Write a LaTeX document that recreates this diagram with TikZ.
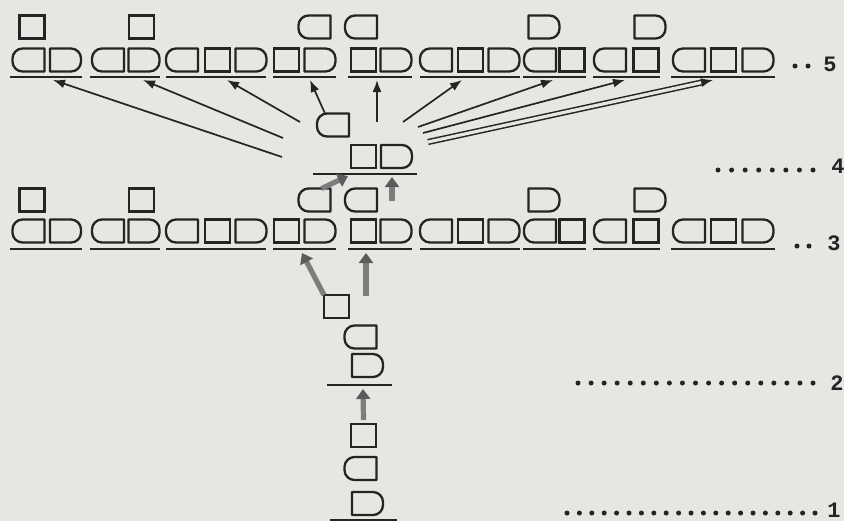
\documentclass[tikz,border=0pt]{standalone}
\usepackage{fontspec}
\setmonofont{Liberation Mono}
\usetikzlibrary{arrows.meta}
\definecolor{paper}{RGB}{229,231,226}
\definecolor{ink}{RGB}{36,36,36}
\definecolor{arrowgray}{RGB}{125,125,125}
\newcommand\glrad{5pt}
\newcommand\glyphS[2]{\node[sqbox] (#1) at (#2) {};}
\newcommand\glyphL[2]{\node[glyph,minimum width=16pt] (#1) at (#2) {};
  \draw[outline] (#1.north east)--([xshift=\glrad]#1.north west) arc[start angle=90,end angle=180,radius=\glrad]
  --([yshift=\glrad]#1.south west) arc[start angle=180,end angle=270,radius=\glrad]--(#1.south east)--cycle;}
\newcommand\glyphR[2]{\node[glyph,minimum width=15.5pt] (#1) at (#2) {};
  \draw[outline] (#1.north west)--([xshift=-\glrad]#1.north east) arc[start angle=90,end angle=0,radius=\glrad]
  --([yshift=\glrad]#1.south east) arc[start angle=0,end angle=-90,radius=\glrad]--(#1.south west)--cycle;}
\tikzset{
  glyph/.style={minimum height=11.5pt,inner sep=0pt,outer sep=0pt},
  sqbox/.style={glyph,draw=ink,line width=1.15pt,minimum width=12.5pt},
  outline/.style={draw=ink,line width=1.15pt,line join=round},
  uline/.style={ink,line width=1pt},
  fan/.style={ink,line width=0.85pt,-{Latex[length=6pt,width=4.5pt]}},
  fat/.style={arrowgray,line width=2.6pt,-{Triangle[length=5pt,width=7pt,color=ink!75]}},
  digit/.style={font=\ttfamily\bfseries\fontsize{11}{12}\selectfont,text=ink,inner sep=0pt},
}
\begin{document}
\begin{tikzpicture}[x=0.5pt,y=-0.5pt]
\useasboundingbox (0,0) rectangle (844,521);
\fill[paper] (0,0) rectangle (844,521);
\foreach \rw/\yr/\ya/\yu in {5/60/27/77,3/231/200/249}{
  \foreach \t/\x [count=\k] in {L/28.5,R/65.5,L/108,R/144,L/182,S/217.5,R/251,S/286.5,R/320,S/363.5,R/396,
      L/436,S/470.5,R/504,L/540,S/572,L/610,S/646,L/689,S/723.5,R/758}
    {\csname glyph\t\endcsname{g\rw-\k}{\x,\yr}}
  \foreach \t/\x [count=\k] in {S/32,S/141.5,L/314.5,L/361,R/544,R/650}
    {\csname glyph\t\endcsname{a\rw-\k}{\x,\ya}}
  \foreach \xa/\xb in {10/82,90/160,166/266,273/336,348/412,420/520,523/586,593/660,671/775}
    {\draw[uline] (\xa,\yu)--(\xb,\yu);}
}
\glyphL{l4}{333,125}\glyphS{s4}{363.5,156.5}\glyphR{r4}{396.5,156.5}
\draw[uline] (313,174)--(417,174);
\glyphS{s2}{336.5,306.5}\glyphL{l2}{360.5,337}\glyphR{r2}{367.5,365.5}
\draw[uline] (327,385)--(392,385);
\glyphS{s1}{363.5,435.5}\glyphL{l1}{360.5,468.5}\glyphR{r1}{367.5,503.5}
\draw[uline] (330,520)--(397,520);
\foreach \i/\xa/\ya/\xb in {1/282/157/53,2/283/138/143,3/300/122/227,5/377/122/377,6/403/122/462,7/418/127/553,8/423/133/625}{
  \coordinate (f\i) at (\xa,\ya); \coordinate (h\i) at (\xb,80); \draw[fan] (f\i)--(h\i);}
\coordinate (h4) at (310,80); \draw[fan] ([xshift=-4pt]l4.north)--(h4);
\coordinate (f9) at (428,142); \coordinate (h9) at (713,80);
\draw[fan,line width=0.75pt,double=paper,double distance=1.6pt] (f9)--(h9);
\coordinate (w4) at (348,176); \draw[fat] ([xshift=3.5pt]a3-3.north)--(w4);
\coordinate (v4) at (392,201); \coordinate (u4) at (392,177); \draw[fat] (v4)--(u4);
\coordinate (w3) at (302,253); \draw[fat] (s2.north west)--(w3);
\coordinate (v3) at (366,296); \coordinate (u3) at (366,253); \draw[fat] (v3)--(u3);
\coordinate (u2) at (363,389); \draw[fat] ([yshift=2pt]s1.north)--(u2);
\foreach \n/\xa/\xb/\yy in {2/795/808/66,8/718/813/170,2/797/809/246,19/578/813/383,21/567/815/513}
  {\foreach \i in {1,...,\n} \fill[ink] ({\xa+(\i-1)*(\xb-\xa)/(\n-1)},\yy) circle[radius=1.25pt];}
\node[digit] (n5) at (830,64) {5};
\node[digit] (n4) at (838,166) {4};
\node[digit] (n3) at (834,243) {3};
\node[digit] (n2) at (837,383) {2};
\node[digit] (n1) at (834,510) {1};
\end{tikzpicture}
\end{document}
